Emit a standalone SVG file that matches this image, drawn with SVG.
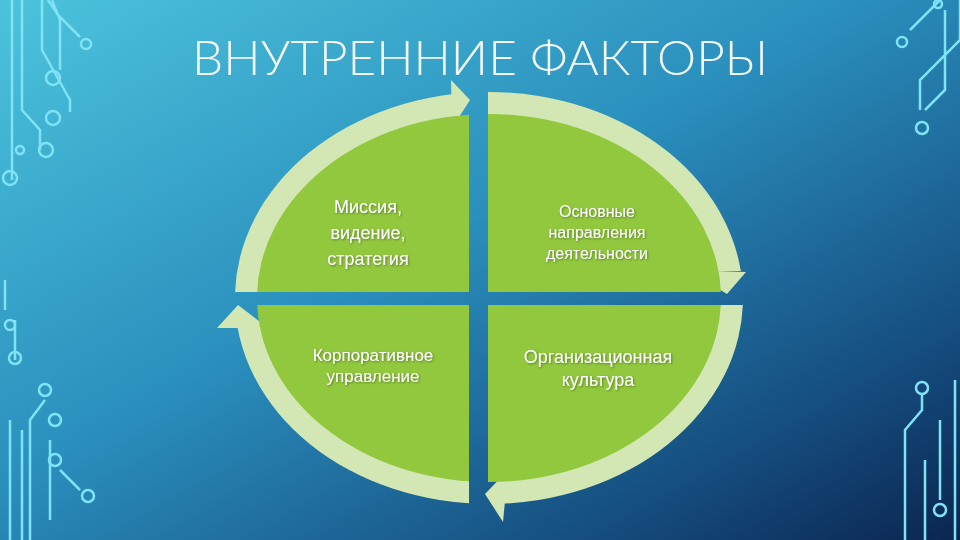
<svg xmlns="http://www.w3.org/2000/svg" width="960" height="540" viewBox="0 0 960 540">
<defs>
<linearGradient id="bg" x1="0" y1="0" x2="1" y2="1">
<stop offset="0" stop-color="#4cc3dc"/>
<stop offset="0.45" stop-color="#2a8fbd"/>
<stop offset="0.8" stop-color="#154e80"/>
<stop offset="1" stop-color="#0b2550"/>
</linearGradient>
<clipPath id="gTL"><rect x="0" y="0" width="469" height="292"/></clipPath>
<clipPath id="gTR"><rect x="488" y="0" width="472" height="292"/></clipPath>
<clipPath id="gBL"><rect x="0" y="305" width="469" height="235"/></clipPath>
<clipPath id="gBR"><rect x="488" y="305" width="472" height="235"/></clipPath>
<clipPath id="rTL"><rect x="0" y="0" width="452" height="292"/></clipPath>
<clipPath id="rTR"><rect x="488" y="0" width="472" height="271"/></clipPath>
<clipPath id="rBL"><rect x="0" y="328" width="469" height="212"/></clipPath>
<clipPath id="rBR"><rect x="500" y="305" width="460" height="235"/></clipPath>
<filter id="sh"><feDropShadow dx="1" dy="1" stdDeviation="0.8" flood-color="#4a6a20" flood-opacity="0.8"/></filter>
</defs>
<style>
.ring{fill:#d3e7b4}
.green{fill:#92c83e}
.arr{fill:#d3e7b4}
.lbl{font-family:"Liberation Sans",Arial,sans-serif;fill:#ffffff;text-anchor:middle;filter:url(#sh)}
.c{fill:none;stroke:#7fe3f5;stroke-width:2.5}
</style>
<rect width="960" height="540" fill="url(#bg)"/>
<g id="circuits" class="c">
<path d="M12 0V180M22 0V110L40 130V150M42 0V50L70 100V112M52 0L60 20V70M48 0L58 15L80 37"/>
<circle cx="86" cy="44" r="5"/><circle cx="53" cy="78" r="7"/><circle cx="53" cy="118" r="7"/><circle cx="46" cy="150" r="7"/><circle cx="20" cy="150" r="4"/><circle cx="10" cy="178" r="7"/>
<path d="M5 280V310M15 320V360M10 420V540M22 430V540M30 470V540M45 400L30 420V470M50 440V520M60 470L80 490"/>
<circle cx="10" cy="325" r="5"/><circle cx="15" cy="358" r="6"/><circle cx="45" cy="390" r="6"/><circle cx="55" cy="420" r="6"/><circle cx="55" cy="460" r="6"/><circle cx="88" cy="496" r="6"/>
<path d="M960 0V40L920 80V110M940 0L910 30M945 10V90L925 110"/>
<circle cx="902" cy="42" r="5"/><circle cx="922" cy="128" r="6"/><circle cx="938" cy="4" r="4"/>
<path d="M922 395V410L905 430V540M955 380V540M940 420V500M925 460V540"/>
<circle cx="922" cy="388" r="6"/><circle cx="940" cy="510" r="6"/>
</g>
<text x="480" y="75" font-family="Lato,'Liberation Sans',Arial,sans-serif" font-weight="300" font-size="48" fill="#f4f8fa" text-anchor="middle" textLength="576" lengthAdjust="spacingAndGlyphs">ВНУТРЕННИЕ ФАКТОРЫ</text>
<g id="connectors">
<ellipse class="ring" cx="489" cy="298" rx="254" ry="206" clip-path="url(#rTL)"/>
<ellipse class="ring" cx="489" cy="298" rx="254" ry="206" clip-path="url(#rTR)"/>
<ellipse class="ring" cx="489" cy="298" rx="254" ry="206" clip-path="url(#rBR)"/>
<ellipse class="ring" cx="489" cy="298" rx="254" ry="206" clip-path="url(#rBL)"/>
<polygon class="arr" points="451,80 452,128 470,100"/>
<polygon class="arr" points="687,270 746,272 727,294"/>
<polygon class="arr" points="508,470 503,522 485,494"/>
<polygon class="arr" points="217,328 268,328 238,305"/>
</g>
<g id="n1"><ellipse class="green" cx="489" cy="298" rx="232" ry="184" clip-path="url(#gTL)"/>
<text class="lbl" font-size="18" x="368"><tspan x="368" y="213">Миссия,</tspan><tspan x="368" y="239">видение,</tspan><tspan x="368" y="265">стратегия</tspan></text></g>
<g id="n2"><ellipse class="green" cx="489" cy="298" rx="232" ry="184" clip-path="url(#gTR)"/>
<text class="lbl" font-size="16" x="597"><tspan x="597" y="217">Основные</tspan><tspan x="597" y="238">направления</tspan><tspan x="597" y="259">деятельности</tspan></text></g>
<g id="n3"><ellipse class="green" cx="489" cy="298" rx="232" ry="184" clip-path="url(#gBL)"/>
<text class="lbl" font-size="17" x="373"><tspan x="373" y="361">Корпоративное</tspan><tspan x="373" y="382">управление</tspan></text></g>
<g id="n4"><ellipse class="green" cx="489" cy="298" rx="232" ry="184" clip-path="url(#gBR)"/>
<text class="lbl" font-size="18" x="598"><tspan x="598" y="363">Организационная</tspan><tspan x="598" y="386">культура</tspan></text></g>
</svg>
